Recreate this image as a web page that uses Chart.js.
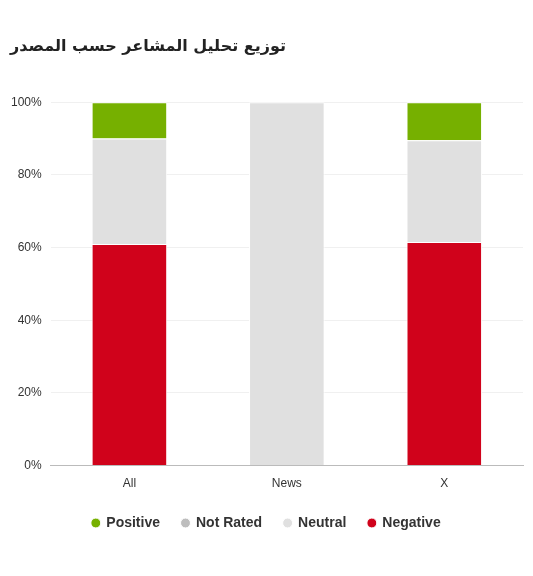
<!DOCTYPE html>
<html>
<head>
<meta charset="utf-8">
<script src="https://cdn.jsdelivr.net/npm/chart.js@4"></script>
<style>
  html, body { margin: 0; padding: 0; background: #fff; }
  #wrap { width: 533px; height: 576px; }
</style>
</head>
<body>
<div id="wrap"><canvas id="chart"></canvas></div>
<script>
const categories = ["All", "News", "X"];
const negative = [61, 0, 61.5];
const neutral = [29, 100, 28];
const notRated = [0, 0, 0];
const positive = [10, 0, 10.5];

const ctx = document.getElementById("chart").getContext("2d");
new Chart(ctx, {
  type: "bar",
  data: {
    labels: categories,
    datasets: [
      { label: "Negative", data: negative, backgroundColor: "#d0021b" },
      { label: "Neutral", data: neutral, backgroundColor: "#e0e0e0" },
      { label: "Not Rated", data: notRated, backgroundColor: "#bdbdbd" },
      { label: "Positive", data: positive, backgroundColor: "#76b000" },
    ].map(d => Object.assign(d, {
      borderColor: "#ffffff",
      borderWidth: 1,
      borderSkipped: "start",
      barPercentage: 0.48,
      categoryPercentage: 1,
    })),
  },
  options: {
    responsive: true,
    maintainAspectRatio: false,
    animation: false,
    layout: { padding: { left: 10, right: 10, top: 22, bottom: 36 } },
    plugins: {
      title: {
        display: true,
        text: "توزيع تحليل المشاعر حسب المصدر",
        align: "start",
        color: "#222",
        font: { family: "'DejaVu Sans', Arial, sans-serif", size: 16, weight: "bold" },
        padding: { top: 15, bottom: 46 },
      },
      legend: {
        position: "bottom",
        reverse: true,
        labels: {
          usePointStyle: true,
          pointStyle: "circle",
          boxWidth: 7,
          boxHeight: 7,
          padding: 22,
          color: "#333",
          font: { family: "'Liberation Sans', Arial, sans-serif", size: 14, weight: "bold" },
        },
      },
      tooltip: { enabled: false },
    },
    scales: {
      x: {
        stacked: true,
        grid: { display: false },
        border: { color: "#bbbbbb" },
        ticks: { color: "#333", padding: 3, font: { family: "'Liberation Sans', Arial, sans-serif", size: 12 } },
      },
      y: {
        stacked: true,
        min: 0,
        max: 100,
        afterFit: scale => { scale.width -= 8; },
        grid: { color: "#f0f0f0", drawTicks: false },
        border: { display: false },
        ticks: {
          stepSize: 20,
          padding: 9,
          color: "#333",
          font: { family: "'Liberation Sans', Arial, sans-serif", size: 12 },
          callback: v => v + "%",
        },
      },
    },
  },
});
</script>
</body>
</html>
